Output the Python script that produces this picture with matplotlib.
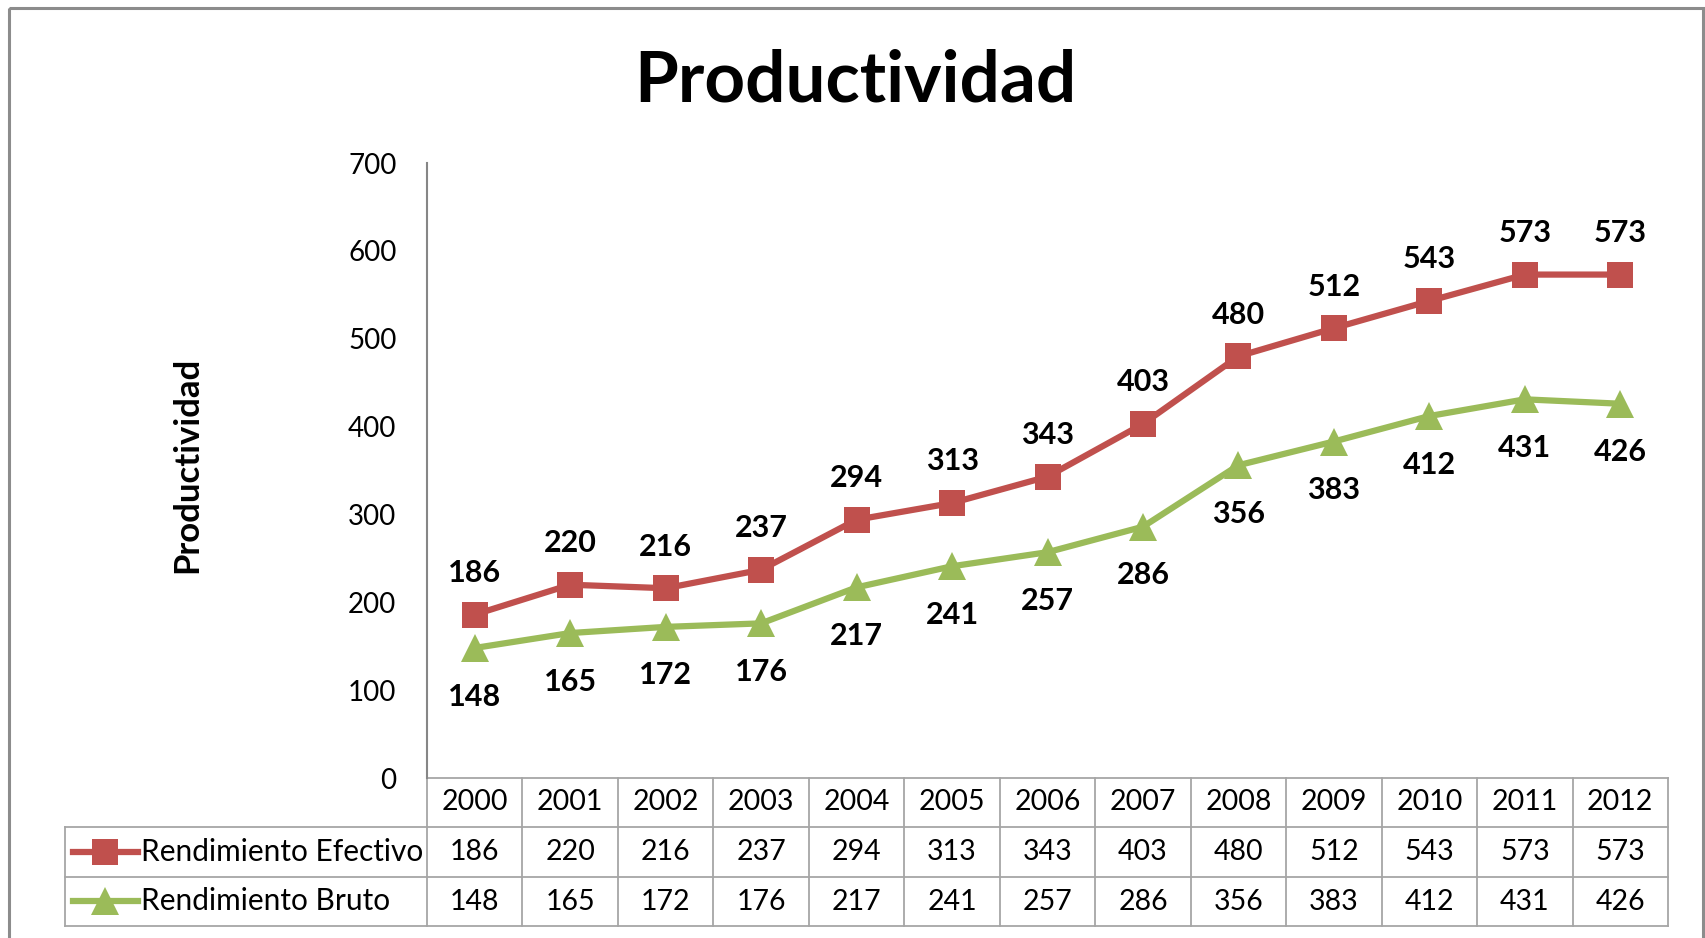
import matplotlib
matplotlib.use("Agg")
import matplotlib.pyplot as plt
from matplotlib.patches import Rectangle

# %% Data

years = ["2000", "2001", "2002", "2003", "2004", "2005", "2006",
         "2007", "2008", "2009", "2010", "2011", "2012"]
efectivo = [186, 220, 216, 237, 294, 313, 343, 403, 480, 512, 543, 573, 573]
bruto = [148, 165, 172, 176, 217, 241, 257, 286, 356, 383, 412, 431, 426]
series_names = ["Rendimiento Efectivo", "Rendimiento Bruto"]
title = "Productividad"
ylabel = "Productividad"
yticks = [0, 100, 200, 300, 400, 500, 600, 700]

# %% Style / layout (pixels, figure is 1706x938 at dpi 100)

W, H = 1706, 938
red = "#C0504D"
green = "#9BBB59"
grid_col = "#A6A6A6"
plt.rcParams["font.family"] = ["Lato", "DejaVu Sans"]

ax_l, ax_r, ax_t, ax_b = 427, 1668, 163, 778   # plot area
row_lines = [778, 827, 877, 926]               # table horizontal lines
tab_left = 65

fig = plt.figure(figsize=(W / 100, H / 100), dpi=100)

# overlay in pixel coordinates for table + border
ov = fig.add_axes([0, 0, 1, 1], zorder=0)
ov.set_xlim(0, W)
ov.set_ylim(H, 0)
ov.axis("off")

ax = fig.add_axes([ax_l / W, 1 - ax_b / H, (ax_r - ax_l) / W, (ax_b - ax_t) / H], zorder=2)
ax.patch.set_alpha(0)

x = list(range(len(years)))
ax.plot(x, efectivo, color=red, lw=4.5, marker="s", ms=18.5, mew=0, solid_joinstyle="round")
ax.plot(x, bruto, color=green, lw=4.5, marker="^", ms=19.5, mew=0, solid_joinstyle="round")

for i in x:
    ax.annotate(str(efectivo[i]), (i, efectivo[i]), xytext=(0, 30), textcoords="offset points",
                ha="center", va="center", fontsize=22, fontweight="bold")
    ax.annotate(str(bruto[i]), (i, bruto[i]), xytext=(0, -35), textcoords="offset points",
                ha="center", va="center", fontsize=22, fontweight="bold")

ax.set_xlim(-0.5, len(years) - 0.5)
ax.set_ylim(0, 700)
ax.set_yticks(yticks)
ax.set_xticks([])
ax.tick_params(axis="y", length=0, pad=22, labelsize=20)
for s in ["top", "right", "bottom"]:
    ax.spines[s].set_visible(False)
ax.spines["left"].set_color("#868686")
ax.spines["left"].set_linewidth(1.5)

# %% Data table under the plot
colw = (ax_r - ax_l) / len(years)
lw_t = 1.3
ov.plot([ax_l, ax_r], [row_lines[0], row_lines[0]], color=grid_col, lw=lw_t)
for y in row_lines[1:]:
    ov.plot([tab_left, ax_r], [y, y], color=grid_col, lw=lw_t)
for i in range(len(years) + 1):
    xx = ax_l + i * colw
    ov.plot([xx, xx], [row_lines[0], row_lines[3]], color=grid_col, lw=lw_t)
ov.plot([tab_left, tab_left], [row_lines[1], row_lines[3]], color=grid_col, lw=lw_t)

for i, yr in enumerate(years):
    cx = ax_l + (i + 0.5) * colw
    ov.text(cx, (row_lines[0] + row_lines[1]) / 2, yr, ha="center", va="center", fontsize=20.5)
    ov.text(cx, (row_lines[1] + row_lines[2]) / 2, str(efectivo[i]), ha="center", va="center", fontsize=20.5)
    ov.text(cx, (row_lines[2] + row_lines[3]) / 2, str(bruto[i]), ha="center", va="center", fontsize=20.5)

# legend keys inside the table
for (y0, y1), name, col, mk, ms in zip([(row_lines[1], row_lines[2]), (row_lines[2], row_lines[3])],
                                       series_names, [red, green], ["s", "^"], [18.5, 19.5]):
    cy = (y0 + y1) / 2
    ov.plot([73, 138], [cy, cy], color=col, lw=4.5)
    ov.plot([105], [cy], color=col, marker=mk, ms=ms, mew=0)
    ov.text(141, cy, name, ha="left", va="center", fontsize=21.5)

# outer chart border
ov.add_patch(Rectangle((9, 8), 1694, 960, fill=False, edgecolor="#8C8C8C", lw=2.2))

# titles
fig.text(855 / W, 1 - 102 / H, title, ha="center", va="baseline", fontsize=51, fontweight="bold")
fig.text(187 / W, 1 - 465 / H, ylabel, ha="center", va="center", rotation=90,
         fontsize=25, fontweight="bold")

fig.savefig("out.png", dpi=100)
